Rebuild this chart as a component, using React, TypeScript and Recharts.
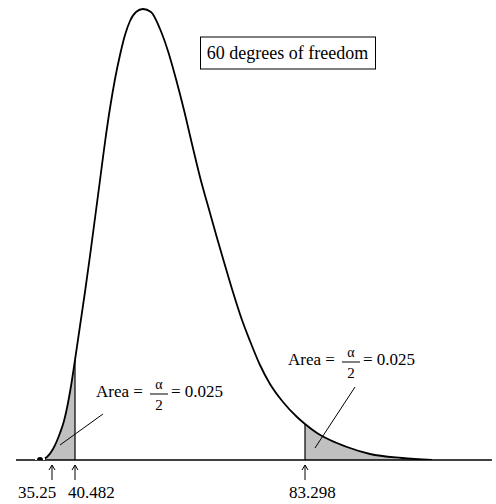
import {
  ComposedChart,
  Line,
  Area,
  XAxis,
  YAxis,
  ReferenceLine,
  ReferenceDot,
} from 'recharts';

// chi-square curve (60 df)
const chiX = [
  33.97, 35.27, 36.39, 37.69, 38.43, 38.99, 39.74, 40.482, 41.41, 42.34, 43.27, 44.21, 45.14,
  46.07, 47.0, 47.93, 48.86, 49.79, 50.72, 51.84, 53.14, 54.63, 56.31, 57.79, 59.28, 60.77,
  62.26, 63.75, 65.61, 66.92, 68.22, 69.71, 71.57, 73.06, 74.92, 76.78, 79.2, 81.81, 83.298,
  85.53, 87.95, 91.12, 95.4, 101.36, 106.94,
];
const density = [
  0, 0.00024, 0.00088, 0.00216, 0.00312, 0.00416, 0.00592, 0.008, 0.01072, 0.01344, 0.01632,
  0.01936, 0.0224, 0.02544, 0.02816, 0.03048, 0.0324, 0.034, 0.03512, 0.03584, 0.03608,
  0.03584, 0.03448, 0.03272, 0.03048, 0.028, 0.02528, 0.02264, 0.01976, 0.01776, 0.01584,
  0.01368, 0.0112, 0.00952, 0.0076, 0.00608, 0.00464, 0.00344, 0.00288, 0.00216, 0.0016,
  0.00104, 0.00048, 0.00016, 0,
];

const lowerCrit = 40.482;
const upperCrit = 83.298;

// arrows sit where the sketch puts them (not to scale)
const tickAt = [36.2, 40.482, 83.298];
const tickLabels = ['35.25', '40.482', '83.298'];

const title = '60 degrees of freedom';
const areaText = ['Area =', 'α', '2', '= 0.025'];

const data = chiX.map((x, i) => ({
  x,
  y: density[i],
  left: x <= lowerCrit ? density[i] : null,
  right: x >= upperCrit ? density[i] : null,
}));

const lowerTop = density[chiX.indexOf(lowerCrit)];
const upperTop = density[chiX.indexOf(upperCrit)];

const FONT = '"Liberation Serif", "Times New Roman", "DejaVu Serif", serif';
const labelDx = [-34, -7, -16];

function ArrowTick({ x, y, index }: any) {
  return (
    <g>
      <path
        d={`M${x},${y + 20}V${y + 5}M${x - 3},${y + 10}L${x},${y + 5}L${x + 3},${y + 10}`}
        stroke="#000"
        strokeWidth={1}
        fill="none"
      />
      <text
        x={x + labelDx[index]}
        y={y + 38}
        style={{ fontFamily: FONT, fontSize: 17 }}
        fill="#000"
      >
        {tickLabels[index]}
      </text>
    </g>
  );
}

function AreaNote({ cx, cy }: any) {
  return (
    <g fill="#000">
      <text x={cx} y={cy} style={{ fontFamily: FONT, fontSize: 17 }}>{areaText[0]}</text>
      <text x={cx + 63} y={cy - 8} textAnchor="middle" style={{ fontFamily: FONT, fontSize: 14 }}>
        {areaText[1]}
      </text>
      <line x1={cx + 54} x2={cx + 72} y1={cy - 3} y2={cy - 3} stroke="#000" strokeWidth={1} />
      <text x={cx + 63} y={cy + 13} textAnchor="middle" style={{ fontFamily: FONT, fontSize: 15 }}>
        {areaText[2]}
      </text>
      <text x={cx + 75} y={cy} style={{ fontFamily: FONT, fontSize: 17 }}>{areaText[3]}</text>
    </g>
  );
}

function TitleBox({ cx, cy }: any) {
  return (
    <g>
      <rect x={cx - 87} y={cy - 16} width={175} height={32} fill="#fff" stroke="#000" strokeWidth={1} />
      <text
        x={cx}
        y={cy + 6}
        textAnchor="middle"
        style={{ fontFamily: FONT, fontSize: 18 }}
        fill="#000"
      >
        {title}
      </text>
    </g>
  );
}

export default function App() {
  return (
    <div style={{ position: 'absolute', left: 0, top: 0, background: '#fff' }}>
      <ComposedChart width={496} height={504} data={data} margin={{ top: 0, right: 0, bottom: 0, left: 0 }}>
        <XAxis
          type="number"
          dataKey="x"
          domain={[26.52, 118.854]}
          allowDataOverflow
          ticks={tickAt}
          interval={0}
          tick={<ArrowTick />}
          tickSize={0}
          tickMargin={0}
          axisLine={false}
          tickLine={false}
          height={44}
        />
        <YAxis type="number" domain={[0, 0.0368]} allowDataOverflow hide />

        <Area
          type="monotone"
          dataKey="left"
          stroke="none"
          fill="#c0c0c0"
          fillOpacity={1}
          baseValue={0}
          isAnimationActive={false}
        />
        <Area
          type="monotone"
          dataKey="right"
          stroke="none"
          fill="#c0c0c0"
          fillOpacity={1}
          baseValue={0}
          isAnimationActive={false}
        />

        <ReferenceLine segment={[{ x: 29.5, y: 0 }, { x: 118.1, y: 0 }]} stroke="#000" strokeWidth={1.6} />
        <ReferenceLine segment={[{ x: lowerCrit, y: 0 }, { x: lowerCrit, y: lowerTop }]} stroke="#000" strokeWidth={1.2} />
        <ReferenceLine segment={[{ x: upperCrit, y: 0 }, { x: upperCrit, y: upperTop }]} stroke="#000" strokeWidth={1.2} />

        <Line
          type="monotone"
          dataKey="y"
          stroke="#000"
          strokeWidth={1.8}
          dot={false}
          isAnimationActive={false}
        />

        {/* leader lines from the notes into the shaded tails */}
        <ReferenceLine segment={[{ x: 45.69, y: 0.00368 }, { x: 37.69, y: 0.0012 }]} stroke="#000" strokeWidth={1} />
        <ReferenceLine segment={[{ x: 92.61, y: 0.00584 }, { x: 85.16, y: 0.00096 }]} stroke="#000" strokeWidth={1} />

        <ReferenceDot x={44.39} y={0.00504} r={0} shape={(p: any) => <AreaNote {...p} />} />
        <ReferenceDot x={80.13} y={0.0076} r={0} shape={(p: any) => <AreaNote {...p} />} />
        <ReferenceDot x={80.04} y={0.03256} r={0} shape={(p: any) => <TitleBox {...p} />} />
      </ComposedChart>
    </div>
  );
}
